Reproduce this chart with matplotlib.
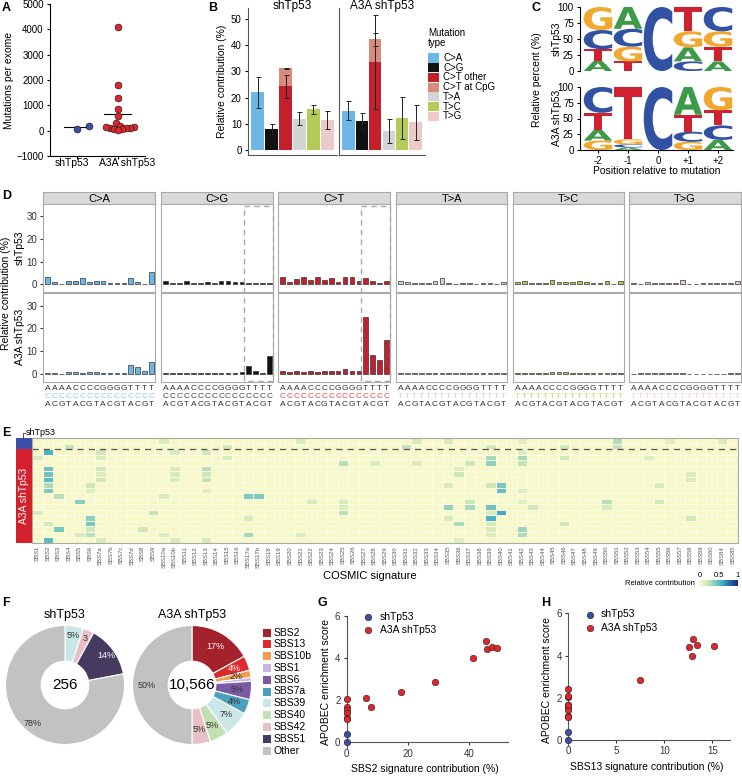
import matplotlib
matplotlib.use("Agg")
import matplotlib.pyplot as plt
import numpy as np
from matplotlib.colors import LinearSegmentedColormap, ListedColormap
from matplotlib.font_manager import FontProperties
from matplotlib.patches import PathPatch, Rectangle
from matplotlib.textpath import TextPath
from matplotlib.transforms import Affine2D

W, H = 742, 776
plt.rcParams["font.family"] = ["Liberation Sans", "DejaVu Sans"]
plt.rcParams["font.size"] = 7
plt.rcParams["axes.linewidth"] = 0.8
plt.rcParams["xtick.major.size"] = 2.5
plt.rcParams["ytick.major.size"] = 2.5
plt.rcParams["xtick.major.pad"] = 2
plt.rcParams["ytick.major.pad"] = 2

BLUE = "#3b4fa6"
RED = "#e0262b"

# ---------------- data ----------------
# A
a_groups = ["shTp53", "A3A shTp53"]
a_sh = [80, 180]
a_a3a = [4100, 1800, 1280, 850, 560, 320, 200, 150, 120, 100, 130, 90, 60, 50, 40]

# B
b_types = ["C>A", "C>G", "C>T other", "C>T at CpG", "T>A", "T>C", "T>G"]
b_colors = ["#6cb6e8", "#111111", "#c4202b", "#d88a7c", "#d4d4d4", "#b4cc57", "#edcaca"]
b_sh_mean = [22.0, 8.0, 24.3, 6.9, 12.0, 15.5, 11.5]
b_sh_err = [5.9, 2.0, 4.4, 0.1, 2.6, 1.7, 3.5]
b_a3a_mean = [15.0, 11.0, 33.5, 8.7, 7.3, 12.2, 10.6]
b_a3a_err = [3.6, 3.1, 18.0, 2.6, 4.7, 8.0, 6.7]

# C
c_positions = ["-2", "-1", "0", "+1", "+2"]
c_base_colors = {"A": "#3d9a48", "C": "#3151a3", "G": "#f0a92e", "T": "#cf2130"}
c_sh = {"A": [16, 34, 0, 22, 15], "C": [30, 28, 100, 15, 38],
        "G": [36, 23, 0, 25, 24], "T": [18, 15, 0, 38, 23]}
c_a3a = {"A": [17, 4, 0, 44, 16], "C": [41, 5, 100, 16, 23],
         "G": [15, 8, 0, 13, 37], "T": [27, 83, 0, 27, 24]}

# D
d_types = ["C>A", "C>G", "C>T", "T>A", "T>C", "T>G"]
d_colors = ["#6cb6e8", "#111111", "#c4202b", "#d4d4d4", "#b4cc57", "#edcaca"]
d_ref_colors = ["#8ccbf2", "#444444", "#e8484e", "#cfcfcf", "#c4d86a", "#f2cccc"]
d_five = "AAAACCCCGGGGTTTT"
d_three = "ACGTACGTACGTACGT"
d_sh = {
    "C>A": [3.3, 0.9, 0.2, 1.2, 1.2, 2.5, 1.1, 1.2, 1.2, 0.4, 0.3, 0.5, 2.5, 1.0, 0.2, 5.2],
    "C>G": [1.2, 0.3, 0.3, 1.2, 0.4, 0.3, 0.8, 0.3, 1.5, 1.2, 1.0, 0.9, 0.4, 0.3, 0.5, 0.6],
    "C>T": [3.3, 1.0, 2.3, 3.0, 1.8, 3.0, 1.8, 2.6, 1.0, 3.0, 3.0, 1.3, 2.6, 1.3, 0.4, 1.3],
    "T>A": [1.3, 0.9, 0.3, 0.3, 0.3, 1.2, 2.5, 0.6, 0.2, 0.3, 0.7, 0.2, 0.6, 0.3, 0.2, 0.9],
    "T>C": [1.0, 1.2, 0.3, 0.3, 0.6, 1.8, 0.9, 1.1, 1.1, 1.3, 0.9, 0.3, 0.3, 1.4, 0.2, 1.3],
    "T>G": [0.3, 0.2, 1.1, 0.6, 0.3, 0.3, 0.6, 2.0, 0.2, 0.2, 0.5, 0.6, 0.6, 0.6, 0.6, 1.3],
}
d_a3a = {
    "C>A": [0.6, 0.6, 0.2, 0.7, 0.7, 0.6, 0.7, 0.8, 0.5, 0.4, 0.3, 0.6, 4.0, 3.0, 1.2, 5.3],
    "C>G": [0.5, 0.4, 0.5, 0.6, 0.4, 0.4, 0.5, 0.5, 0.4, 0.5, 0.5, 0.7, 3.5, 1.2, 0.3, 8.0],
    "C>T": [1.3, 0.9, 1.2, 0.9, 1.4, 1.0, 1.3, 1.2, 1.3, 2.1, 1.3, 1.2, 25.0, 8.2, 6.2, 15.0],
    "T>A": [0.3, 0.3, 0.3, 0.3, 0.3, 0.4, 0.6, 0.6, 0.3, 0.3, 0.3, 0.3, 0.3, 0.3, 0.3, 0.3],
    "T>C": [0.3, 0.3, 0.3, 0.3, 0.3, 0.7, 0.7, 0.8, 0.3, 0.3, 0.3, 0.3, 0.3, 0.3, 0.3, 0.3],
    "T>G": [0.2, 0.3, 0.3, 0.3, 0.3, 0.3, 0.3, 0.6, 0.2, 0.2, 0.2, 0.2, 0.2, 0.2, 0.5, 0.5],
}

# E
e_sigs = ["SBS1", "SBS2", "SBS3", "SBS4", "SBS5", "SBS6", "SBS7a", "SBS7b", "SBS7c", "SBS7d",
          "SBS8", "SBS9", "SBS10a", "SBS10b", "SBS11", "SBS12", "SBS13", "SBS14", "SBS15",
          "SBS16", "SBS17a", "SBS17b"] + [f"SBS{i}" for i in range(18, 61)] + ["SBS84", "SBS85"]
e_row_groups = ["shTp53"] * 2 + ["A3A shTp53"] * 17
e_cells = [
    (0, "SBS10a", 0.15), (0, "SBS21", 0.15), (0, "SBS32", 0.15), (0, "SBS35", 0.15),
    (0, "SBS42", 0.12), (0, "SBS51", 0.28), (0, "SBS56", 0.12), (0, "SBS84", 0.15),
    (1, "SBS4", 0.22), (1, "SBS15", 0.18), (1, "SBS31", 0.22), (1, "SBS39", 0.18),
    (1, "SBS46", 0.18), (1, "SBS51", 0.22),
    (2, "SBS2", 0.55), (2, "SBS7a", 0.18), (2, "SBS10b", 0.15), (2, "SBS13", 0.18), (2, "SBS42", 0.12),
    (3, "SBS1", 0.15), (3, "SBS7a", 0.15), (3, "SBS15", 0.15), (3, "SBS39", 0.3),
    (3, "SBS42", 0.3), (3, "SBS46", 0.18), (3, "SBS54", 0.12),
    (4, "SBS25", 0.25), (4, "SBS28", 0.15), (4, "SBS32", 0.15), (4, "SBS37", 0.2),
    (4, "SBS39", 0.35), (4, "SBS42", 0.22),
    (5, "SBS2", 0.45), (5, "SBS7a", 0.18), (5, "SBS10b", 0.15), (5, "SBS13", 0.25), (5, "SBS36", 0.12),
    (6, "SBS2", 0.45), (6, "SBS7a", 0.12), (6, "SBS10b", 0.15), (6, "SBS13", 0.2),
    (6, "SBS36", 0.18), (6, "SBS58", 0.15),
    (7, "SBS2", 0.5), (7, "SBS7a", 0.18), (7, "SBS10b", 0.15), (7, "SBS13", 0.22), (7, "SBS58", 0.15),
    (8, "SBS2", 0.28), (8, "SBS6", 0.18), (8, "SBS35", 0.15), (8, "SBS39", 0.18),
    (8, "SBS40", 0.42), (8, "SBS55", 0.15),
    (9, "SBS2", 0.4), (9, "SBS6", 0.12), (9, "SBS13", 0.12), (9, "SBS40", 0.48), (9, "SBS42", 0.12),
    (10, "SBS3", 0.25), (10, "SBS10a", 0.15), (10, "SBS17a", 0.4), (10, "SBS17b", 0.4),
    (11, "SBS5", 0.38), (11, "SBS22", 0.15), (11, "SBS25", 0.15), (11, "SBS37", 0.2),
    (11, "SBS42", 0.12), (11, "SBS50", 0.25), (11, "SBS55", 0.18),
    (12, "SBS25", 0.15), (12, "SBS35", 0.35), (12, "SBS37", 0.3), (12, "SBS39", 0.45),
    (12, "SBS43", 0.18), (12, "SBS50", 0.15),
    (13, "SBS1", 0.15), (13, "SBS9", 0.22), (13, "SBS25", 0.25), (13, "SBS39", 0.15), (13, "SBS40", 0.6),
    (14, "SBS6", 0.38), (14, "SBS17a", 0.15), (14, "SBS35", 0.15), (14, "SBS39", 0.55), (14, "SBS58", 0.18),
    (15, "SBS2", 0.18), (15, "SBS6", 0.42), (15, "SBS36", 0.28), (15, "SBS39", 0.15), (15, "SBS46", 0.18),
    (16, "SBS3", 0.42), (16, "SBS6", 0.18), (16, "SBS8", 0.18), (16, "SBS39", 0.15), (16, "SBS42", 0.32),
    (17, "SBS5", 0.15), (17, "SBS6", 0.25), (17, "SBS10a", 0.15), (17, "SBS17a", 0.3),
    (17, "SBS21", 0.15), (17, "SBS39", 0.15), (17, "SBS42", 0.28),
    (18, "SBS2", 0.5), (18, "SBS7a", 0.15), (18, "SBS10b", 0.15), (18, "SBS13", 0.15), (18, "SBS36", 0.12),
]

# F
f_sig_colors = {"SBS2": "#a3222b", "SBS13": "#e0292d", "SBS10b": "#ef9d4e", "SBS1": "#c9b5e0",
                "SBS6": "#7a5aa6", "SBS7a": "#4d9fc0", "SBS39": "#c9e7e7", "SBS40": "#c2e0b2",
                "SBS42": "#e8c0c5", "SBS51": "#463a60", "Other": "#c2c2c2"}
f_sh_sigs = ["SBS39", "SBS42", "SBS51", "Other"]
f_sh_vals = [5, 3, 14, 78]
f_sh_text = ["5%", "3", "14%", "78%"]
f_sh_total = "256"
f_a3a_sigs = ["SBS2", "SBS13", "SBS10b", "SBS1", "SBS6", "SBS7a", "SBS39", "SBS40", "SBS42", "Other"]
f_a3a_vals = [17, 4, 2, 1, 5, 4, 7, 5, 5, 50]
f_a3a_text = ["17%", "4%", "2%", "", "5%", "4%", "7%", "5%", "5%", "50%"]
f_a3a_total = "10,566"
f_legend = ["SBS2", "SBS13", "SBS10b", "SBS1", "SBS6", "SBS7a", "SBS39", "SBS40", "SBS42", "SBS51", "Other"]

# G / H
gh_sh_score = [0.0, 0.4]
gh_sh_sbs2 = [0, 0]
gh_sh_sbs13 = [0, 0]
gh_a3a_score = [2.05, 1.65, 1.55, 1.4, 1.15, 1.1, 2.1, 1.65, 2.4, 2.85, 4.0, 4.8, 4.4, 4.5, 4.45]
gh_a3a_sbs2 = [0, 0, 0, 0, 0, 0, 6.2, 8.0, 17.6, 28.8, 41.2, 45.5, 46.0, 47.6, 49.0]
gh_a3a_sbs13 = [0, 0, 0, 0, 0, 0, 0, 0, 0, 7.5, 12.9, 13.0, 12.6, 13.4, 15.2]

# ---------------- figure ----------------
fig = plt.figure(figsize=(W / 100, H / 100), dpi=100)
ov = fig.add_axes([0, 0, 1, 1], zorder=10)
ov.set_xlim(0, W)
ov.set_ylim(H, 0)
ov.axis("off")


def add_ax(x0, y0, x1, y1):
    return fig.add_axes([x0 / W, 1 - y1 / H, (x1 - x0) / W, (y1 - y0) / H])


def to_px(ax, x, y):
    dx, dy = ax.transData.transform((x, y))
    return dx, H - dy


def swarm(vals, px_x, px_y, diam=4.0):
    offs = np.zeros(len(vals))
    placed = []
    for i in np.argsort(vals):
        y = vals[i] * px_y
        k, got = 0, None
        while got is None:
            cands = [0.0] if k == 0 else [k * diam * 0.5, -k * diam * 0.5]
            for c in cands:
                if all((c - px) ** 2 + (y - py) ** 2 >= diam ** 2 for px, py in placed):
                    got = c
                    break
            k += 1
        placed.append((got, y))
        offs[i] = got / px_x
    return offs


for letter, x, y in [("A", 2, 8), ("B", 208, 8), ("C", 531, 8), ("D", 2, 196),
                     ("E", 2, 433), ("F", 2, 603), ("G", 318, 603), ("H", 541, 603)]:
    ov.text(x, y, letter, fontsize=9, fontweight="bold", va="center", ha="left")

# ---- A ----
ax = add_ax(50, 4, 145, 156)
ax.set_xlim(-0.66, 1.66)
ax.set_ylim(-1000, 5000)
for i, (vals, col) in enumerate([(a_sh, BLUE), (a_a3a, RED)]):
    vals = np.asarray(vals, float)
    offs = swarm(vals, 41.0, 24.3 / 1000, diam=4.0 if i else 12.0)
    ax.scatter(i + offs, vals, s=24, c=col, edgecolors="#222222", linewidths=0.5, zorder=3, clip_on=False)
    m = vals.mean()
    ax.plot([i - 0.33, i + 0.33], [m, m], color="k", lw=0.8, zorder=2)
ax.set_xticks([0, 1], ["", ""])
ax.set_yticks(range(-1000, 5001, 1000))
ax.set_ylabel("Mutations per exome", fontsize=7.5, labelpad=2)
ax.spines[["top", "right"]].set_visible(False)
for name, xp in zip(a_groups, [72, 127]):
    ov.text(xp, 163, name, fontsize=7.5, ha="center", va="center")

# ---- B ----
b_pos = [0, 1, 2, 2, 3, 4, 5]
for j, (title, means, errs, (x0, x1)) in enumerate([
        ("shTp53", b_sh_mean, b_sh_err, (248, 337)),
        ("A3A shTp53", b_a3a_mean, b_a3a_err, (339, 425))]):
    ax = add_ax(x0, 8, x1, 155)
    ax.set_xlim(-0.7, 5.7)
    ax.set_ylim(-1.9, 54.2)
    bottoms = [0, 0, 0, means[2], 0, 0, 0]
    ax.bar(b_pos, means, bottom=bottoms, width=0.92, color=b_colors, zorder=1)
    ax.errorbar(b_pos, np.add(means, bottoms), yerr=errs, fmt="none", ecolor="#222222",
                elinewidth=0.7, capsize=1.8, capthick=0.7, zorder=2)
    ax.set_xticks([])
    ax.spines[["top", "right"]].set_visible(False)
    ax.spines["left"].set_color("#555555")
    ax.spines["bottom"].set_color("#555555")
    if j == 0:
        ax.set_yticks(range(0, 51, 10))
        ax.set_ylabel("Relative contribution (%)", fontsize=7.5, labelpad=3)
    else:
        ax.set_yticks([])
    ov.text((x0 + x1) / 2, 6, title, fontsize=8.5, ha="center", va="center")

ov.text(428, 33, "Mutation", fontsize=7, va="center")
ov.text(428, 43, "type", fontsize=7, va="center")
for k, (name, col) in enumerate(zip(b_types, b_colors)):
    yy = 58 + k * 9.7
    ov.add_patch(Rectangle((428, yy - 4.6), 11, 9.2, color=col, lw=0))
    ov.text(443, yy, name, fontsize=7, va="center")

# ---- C ----
LOGO_FONT = FontProperties(family="DejaVu Sans", weight="bold")


def draw_letter(ax, ch, x, y, w, h, color):
    if h <= 0:
        return
    tp = TextPath((0, 0), ch, size=1, prop=LOGO_FONT)
    bb = tp.get_extents()
    tr = Affine2D().translate(-bb.x0, -bb.y0).scale(w / bb.width, h / bb.height).translate(x - w / 2, y)
    ax.add_patch(PathPatch(tr.transform_path(tp), facecolor=color, lw=0))


for k, (freqs, (y0, y1), lab, lab_y) in enumerate([
        (c_sh, (7, 71), "shTp53", 39), (c_a3a, (87, 150), "A3A shTp53", 118)]):
    ax = add_ax(580, y0, 733, y1)
    ax.set_xlim(-2.6, 2.5)
    ax.set_ylim(0, 100)
    for p in range(len(c_positions)):
        stack = sorted(freqs.items(), key=lambda kv: kv[1][p])
        base = 0
        for b, v in stack:
            draw_letter(ax, b, p - 2, base, 0.95, v[p], c_base_colors[b])
            base += v[p]
    ax.set_yticks([0, 25, 50, 75, 100])
    ax.spines[["top", "right"]].set_visible(False)
    if k == 0:
        ax.spines["bottom"].set_visible(False)
        ax.set_xticks([])
    else:
        ax.set_xticks(range(-2, 3), c_positions)
    ov.text(557, lab_y, lab, rotation=90, fontsize=7.5, ha="center", va="center")
ov.text(537, 80, "Relative percent (%)", rotation=90, fontsize=7.5, ha="center", va="center")
ov.text(657, 171, "Position relative to mutation", fontsize=7.5, ha="center", va="center")

# ---- D ----
d_cols_x = [(43, 155), (161, 273), (278, 390), (396, 507), (513, 624), (629, 741)]
EDGE = "#aaaaaa"
for c, (mt, (x0, x1)) in enumerate(zip(d_types, d_cols_x)):
    st = add_ax(x0, 192, x1, 204)
    st.set_facecolor("#d9d9d9")
    st.set_xticks([])
    st.set_yticks([])
    for sp in st.spines.values():
        sp.set_color(EDGE)
    st.text(0.5, 0.45, mt, transform=st.transAxes, ha="center", va="center", fontsize=8)
    axes_rows = []
    for r, (data, (y0, y1)) in enumerate([(d_sh, (204, 292)), (d_a3a, (293, 382))]):
        ax = add_ax(x0, y0, x1, y1)
        ax.set_xlim(-0.7, 15.5)
        ax.set_ylim(-3.5, 35.5)
        ax.bar(range(16), data[mt], width=0.68, color=d_colors[c], edgecolor="#333333", linewidth=0.5)
        ax.set_xticks([])
        for sp in ax.spines.values():
            sp.set_color(EDGE)
        if c == 0:
            ax.set_yticks([0, 10, 20, 30])
            ax.tick_params(axis="y", colors="#333333", length=2, labelsize=7)
        else:
            ax.set_yticks([])
        axes_rows.append(ax)
    for i in range(16):
        xp, _ = to_px(axes_rows[1], i, 0)
        ov.text(xp, 389, d_five[i], fontsize=6, ha="center", va="center", color="#333333")
        ov.text(xp, 396.5, mt[0], fontsize=6, ha="center", va="center", color=d_ref_colors[c])
        ov.text(xp, 404, d_three[i], fontsize=6, ha="center", va="center", color="#333333")
    if mt in ("C>G", "C>T"):
        bx, _ = to_px(axes_rows[0], 11.3, 0)
        ov.add_patch(Rectangle((bx, 206), x1 - 0.5 - bx, 175, fill=False, ec="#aaaaaa",
                               lw=1.0, ls=(0, (4, 3))))
ov.text(6, 293, "Relative contribution (%)", rotation=90, fontsize=7.5, ha="center", va="center")
ov.text(20, 248, "shTp53", rotation=90, fontsize=7.5, ha="center", va="center")
ov.text(20, 337, "A3A shTp53", rotation=90, fontsize=7.5, ha="center", va="center")

# ---- E ----
e_cmap = LinearSegmentedColormap.from_list(
    "ylgnbu", ["#f7f8c8", "#cce6b6", "#7fcbbb", "#3fa9c6", "#2166a8", "#1b2c7a"])
mat = np.zeros((len(e_row_groups), len(e_sigs)))
for r, s, v in e_cells:
    mat[r, e_sigs.index(s)] = v
ax = add_ax(32, 438, 738, 543)
ax.pcolormesh(mat, cmap=e_cmap, vmin=0, vmax=1, edgecolors="#fbfbe6", linewidth=0.4)
ax.set_ylim(len(e_row_groups), 0)
ax.set_xticks(np.arange(len(e_sigs)) + 0.5, e_sigs, rotation=90, fontsize=4.3, color="#555555")
ax.tick_params(length=0, pad=2)
ax.set_yticks([])
for sp in ax.spines.values():
    sp.set_color("#aaaaaa")
n_sh = e_row_groups.count("shTp53")
ax.axhline(n_sh, color="#555555", ls=(0, (5, 4)), lw=0.9)
ov.text(370, 576, "COSMIC signature", fontsize=8, ha="center", va="center")

ann = add_ax(16, 438, 32, 543)
grp = np.array([[0 if g == "shTp53" else 1] for g in e_row_groups])
ann.pcolormesh(grp, cmap=ListedColormap([BLUE, "#d3202c"]), vmin=0, vmax=1)
ann.set_ylim(len(e_row_groups), 0)
ann.axis("off")
ann.text(0.5, (n_sh + len(e_row_groups)) / 2, "A3A shTp53", rotation=90, color="white",
         fontsize=7.5, ha="center", va="center", transform=ann.transData)
ov.plot([22.7, 22.7, 25], [438, 432.5, 432.5], color="#333333", lw=0.6)
ov.text(26, 432.5, "shTp53", fontsize=6.5, va="center")

cb = add_ax(700, 580, 738, 586)
cb.imshow(np.linspace(0, 1, 200)[None, :], aspect="auto", cmap=e_cmap, extent=(0, 1, 0, 1))
cb.axis("off")
for v in [0, 0.5, 1]:
    xp, _ = to_px(cb, v, 1)
    ov.text(xp, 575.5, f"{v:g}", fontsize=5.5, ha="center", va="center")
ov.text(695, 583.5, "Relative contribution", fontsize=5.5, ha="right", va="center")

# ---- F ----
for (sigs, vals, texts, total, title, (cx, cy), lab_r) in [
        (f_sh_sigs, f_sh_vals, f_sh_text, f_sh_total, "shTp53", (65, 685), 0.85),
        (f_a3a_sigs, f_a3a_vals, f_a3a_text, f_a3a_total, "A3A shTp53", (192, 685), 0.76)]:
    R = 59.5
    ax = add_ax(cx - R, cy - R, cx + R, cy + R)
    ax.pie(vals, colors=[f_sig_colors[s] for s in sigs], startangle=90, counterclock=False,
           radius=1, wedgeprops=dict(width=0.6, edgecolor="white", linewidth=0.8))
    ax.set_xlim(-1, 1)
    ax.set_ylim(-1, 1)
    tot = float(sum(vals))
    cum = 0.0
    for s, v, t in zip(sigs, vals, texts):
        ang = np.deg2rad(90 - 360 * (cum + v / 2) / tot)
        cum += v
        if not t:
            continue
        col = "white" if s in ("SBS2", "SBS13", "SBS51") else "#333333"
        ax.text(lab_r * np.cos(ang), lab_r * np.sin(ang), t, ha="center", va="center",
                fontsize=6.5, color=col)
    ax.text(0, 0, total, ha="center", va="center", fontsize=11)
    ov.text(cx, 615, title, fontsize=9, ha="center", va="center")

for k, s in enumerate(f_legend):
    yy = 632.5 + k * 11.8
    ov.add_patch(Rectangle((263, yy - 4), 8, 8, color=f_sig_colors[s], lw=0))
    ov.text(274, yy, s, fontsize=7.5, va="center")

# ---- G / H ----
for (xs_sh, xs_a3a, xlabel, box, xlim, xticks) in [
        (gh_sh_sbs2, gh_a3a_sbs2, "SBS2 signature contribution (%)",
         (342.1, 615.7, 508.3, 748.6), (-1.5, 52.8), [0, 20, 40]),
        (gh_sh_sbs13, gh_a3a_sbs13, "SBS13 signature contribution (%)",
         (563.5, 613.3, 730.1, 746.3), (-0.5, 16.85), [0, 5, 10, 15])]:
    ax = add_ax(*box)
    ax.set_xlim(*xlim)
    ax.set_ylim(-0.3, 6)
    ax.scatter(xs_sh, gh_sh_score, s=22, c=BLUE, edgecolors="#222222", linewidths=0.4,
               zorder=3, clip_on=False, label="shTp53")
    ax.scatter(xs_a3a, gh_a3a_score, s=22, c=RED, edgecolors="#222222", linewidths=0.4,
               zorder=3, clip_on=False, label="A3A shTp53")
    ax.spines[["top", "right"]].set_visible(False)
    ax.spines["left"].set_position(("data", 0))
    ax.spines["bottom"].set_position(("data", 0))
    ax.spines["left"].set_color("#555555")
    ax.spines["bottom"].set_color("#555555")
    ax.spines["bottom"].set_bounds(0, xlim[1])
    ax.set_xticks(xticks)
    ax.set_yticks([0, 2, 4, 6])
    ax.tick_params(colors="#333333", labelsize=7)
    ax.set_xlabel(xlabel, fontsize=7.5, labelpad=4)
    ax.set_ylabel("APOBEC enrichment score", fontsize=7.5, labelpad=3)
    ax.legend(loc="upper left", bbox_to_anchor=(0.07, 1.06), frameon=False, fontsize=7.5,
              handletextpad=0.1, borderaxespad=0, labelspacing=0.3, markerscale=1.0)

fig.savefig("out.png", dpi=100)
